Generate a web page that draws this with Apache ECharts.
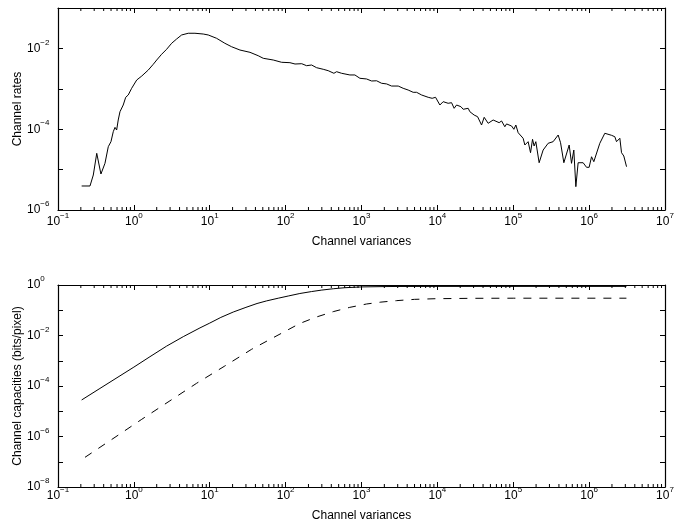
<!DOCTYPE html>
<html><head><meta charset="utf-8">
<script src="https://cdn.jsdelivr.net/npm/echarts@6/dist/echarts.min.js"></script>
<style>html,body{margin:0;padding:0;background:#fff}#c{width:676px;height:529px}</style>
</head><body><div id="c"></div>
<script>
// ---- Data ----
const rateX = [0.205,0.264,0.292,0.324,0.368,0.416,0.46,0.499,0.535,0.564,0.593,0.622,0.656,0.724,0.78,0.843,0.935,1.09,1.27,1.55,1.80,2.0,2.32,2.70,3.15,3.66,4.26,5.21,6.38,8.21,
  9.55,12.3,15.8,19.4,25.0,33.9,43.5,50.7,68.7,88.5,114,133,163,189,220,256,313,364,383,433,470,547,703,
  818,953,1167,1358,1581,1840,2143,2490,3048,3206,3540,4121,4797,5321,6194,7568,8535,9462,10790,11920,13870,15380,16640,17910,20420,21880,25470,26800,30530,33880,38210,41390,46680,54330,
  65170,70150,77450,81620,95060,101900,108200,116100,135000,142200,157100,169000,179600,188400,198500,219300,247600,288300,335500,390800,420100,464400,545600,586100,628500,668300,716200,833700,924600,1000000,1076000,1153000,1383000,1610000,1972000,2181000,2296000,2541000,2673000,2865000,3112000];
const rateY = [3.93e-6,3.93e-6,7.35e-6,2.53e-5,7.78e-6,1.43e-5,3.69e-5,4.91e-5,8.67e-5,1.11e-4,9.55e-5,1.69e-4,2.71e-4,3.97e-4,6.16e-4,7.03e-4,1.03e-3,1.65e-3,2.07e-3,2.92e-3,4.04e-3,5.16e-3,7.14e-3,9.5e-3,1.34e-2,1.71e-2,2.15e-2,2.37e-2,2.37e-2,2.27e-2,
  2.15e-2,1.78e-2,1.34e-2,1.10e-2,9.12e-3,8.0e-3,6.59e-3,5.69e-3,5.16e-3,4.53e-3,4.43e-3,4.11e-3,4.18e-3,3.73e-3,3.88e-3,3.33e-3,3.04e-3,2.81e-3,3.04e-3,2.42e-3,2.65e-3,2.42e-3,2.20e-3,
  2.20e-3,1.82e-3,1.75e-3,1.56e-3,1.58e-3,1.37e-3,1.32e-3,1.17e-3,1.17e-3,1.24e-3,1.03e-3,9.33e-4,8.19e-4,8.19e-4,7.03e-4,6.16e-4,5.82e-4,6.16e-4,3.97e-4,4.80e-4,4.38e-4,4.53e-4,3.29e-4,3.97e-4,3.61e-4,3.11e-4,3.29e-4,2.71e-4,2.24e-4,2.04e-4,1.27e-4,1.97e-4,1.40e-4,1.69e-4,
  1.45e-4,1.60e-4,1.15e-4,1.35e-4,1.20e-4,9.95e-5,1.27e-4,8.19e-5,5.96e-5,4.06e-5,4.91e-5,2.62e-5,5.62e-5,3.84e-5,4.91e-5,1.48e-5,3.05e-5,4.48e-5,4.91e-5,7.18e-5,4.63e-5,1.48e-5,4.06e-5,1.43e-5,3.05e-5,3.78e-6,1.48e-5,1.48e-5,1.14e-5,1.14e-5,2.08e-5,1.57e-5,4.48e-5,7.93e-5,7.06e-5,6.52e-5,4.91e-5,5.96e-5,2.62e-5,2.17e-5,1.18e-5];

const capSolidX = [0.205,0.357,0.564,1.0,1.63,2.7,4.48,7.43,10,14,20.4,30,42,56.2,80,110,154,220,300,424,600,1000,2000,3000,1e4,1e5,1e6,3.1e6];
const capSolidY = [2.8e-5,8.0e-5,1.9e-4,5.6e-4,1.45e-3,3.8e-3,9.0e-3,2.0e-2,3.1e-2,5.2e-2,8.5e-2,0.13,0.185,0.235,0.3,0.37,0.46,0.55,0.63,0.71,0.78,0.84,0.865,0.875,0.88,0.88,0.88,0.88];
const capDashX = [0.227,0.564,1.27,2.99,6.71,15.8,35.6,60,100,154,250,424,700,1167,1800,2897,5000,9550,3e4,1e5,1e6,3.1e6];
const capDashY = [1.5e-7,9.3e-7,4.8e-6,2.6e-5,1.28e-4,6.2e-4,2.84e-3,6.6e-3,1.5e-2,3.0e-2,5.3e-2,8.8e-2,0.13,0.177,0.21,0.24,0.27,0.287,0.297,0.3,0.3,0.3];

const xRange = [0.1, 1e7];
const topYRange = [1e-6, 1e-1];
const botYRange = [1e-8, 1];
const xName = 'Channel variances';
const topYName = 'Channel rates';
const botYName = 'Channel capacities (bits/pixel)';

// ---- Helpers ----
const FONT = '"Liberation Sans", Arial, Helvetica, sans-serif';
const rich = {
  b: {fontSize: 12, lineHeight: 12, fontFamily: FONT, color: '#000', verticalAlign: 'bottom'},
  s: {fontSize: 8, lineHeight: 8, fontFamily: FONT, color: '#000', padding: [0, 0, 8, 0], verticalAlign: 'bottom'}
};
function powLabel(v) {
  const e = Math.round(Math.log10(v));
  return '{b|10}{s|' + (e < 0 ? '\u2212' + (-e) : String(e)) + '}';
}
function evenPowLabel(v) {
  const e = Math.round(Math.log10(v));
  return (e % 2 === 0) ? powLabel(v) : '';
}
const lineAx = {show: true, onZero: false, lineStyle: {color: '#000', width: 1.2}};
const tickAx = {show: true, inside: true, length: 5, lineStyle: {color: '#000', width: 1}};

function xAxis(grid, pos, labels, margin, nameGap) {
  const a = {type: 'log', logBase: 10, gridIndex: grid, position: pos, min: xRange[0], max: xRange[1], splitNumber: 8,
    axisLine: lineAx, axisTick: tickAx, splitLine: {show: false}, minorTick: {show: false},
    axisLabel: {show: labels, formatter: powLabel, rich: rich, margin: margin, showMinLabel: true, showMaxLabel: true, hideOverlap: false}};
  if (labels) {
    a.name = xName; a.nameLocation = 'middle'; a.nameGap = nameGap;
    a.nameTextStyle = {fontFamily: FONT, fontSize: 12, color: '#000'};
  }
  return a;
}
function yAxis(grid, pos, range, labels, name, split) {
  const a = {type: 'log', logBase: 10, gridIndex: grid, position: pos, min: range[0], max: range[1], splitNumber: split,
    axisLine: lineAx, axisTick: tickAx, splitLine: {show: false}, minorTick: {show: false},
    axisLabel: {show: labels, formatter: evenPowLabel, rich: rich, align: 'left', margin: 31, showMinLabel: true, showMaxLabel: true, hideOverlap: false}};
  if (labels) {
    a.name = name; a.nameLocation = 'middle'; a.nameGap = 34; a.nameMoveOverlap = false;
    a.nameTextStyle = {fontFamily: FONT, fontSize: 12, color: '#000'};
  }
  return a;
}

const minorVals = [];
for (let e = -1; e <= 6; e++) for (let k = 2; k <= 9; k++) minorVals.push(k * Math.pow(10, e));

function minorTicks(xi, yi, yRef) {
  return {
    type: 'custom', xAxisIndex: xi, yAxisIndex: yi, silent: true, clip: false, z: 5,
    data: minorVals.map(v => [v, yRef]),
    renderItem(params, api) {
      const p = api.coord([api.value(0), api.value(1)]);
      const cs = params.coordSys;
      const len = 3;
      return {type: 'group', children: [
        {type: 'line', shape: {x1: p[0], y1: cs.y + cs.height, x2: p[0], y2: cs.y + cs.height - len}, style: {stroke: '#000', lineWidth: 1}},
        {type: 'line', shape: {x1: p[0], y1: cs.y, x2: p[0], y2: cs.y + len}, style: {stroke: '#000', lineWidth: 1}}
      ]};
    }
  };
}
const pairs = (xs, ys) => xs.map((x, i) => [x, ys[i]]);

const chart = echarts.init(document.getElementById('c'), null, {renderer: 'canvas'});
chart.setOption({
  animation: false,
  backgroundColor: '#fff',
  textStyle: {fontFamily: FONT},
  grid: [
    {left: 58, right: 11, top: 8, height: 202, containLabel: false, outerBoundsMode: 'none'},
    {left: 58, right: 11, top: 285, height: 202, containLabel: false, outerBoundsMode: 'none'}
  ],
  xAxis: [
    xAxis(0, 'bottom', true, 6, 26),
    xAxis(0, 'top', false, 0, 0),
    xAxis(1, 'bottom', true, 3, 23),
    xAxis(1, 'top', false, 0, 0)
  ],
  yAxis: [
    yAxis(0, 'left', topYRange, true, topYName, 5),
    yAxis(0, 'right', topYRange, false, '', 5),
    yAxis(1, 'left', botYRange, true, botYName, 8),
    yAxis(1, 'right', botYRange, false, '', 8)
  ],
  series: [
    {type: 'line', xAxisIndex: 0, yAxisIndex: 0, data: pairs(rateX, rateY), showSymbol: false, symbol: 'none',
      lineStyle: {color: '#000', width: 1}, z: 3},
    {type: 'line', xAxisIndex: 2, yAxisIndex: 2, data: pairs(capSolidX, capSolidY), showSymbol: false, symbol: 'none',
      lineStyle: {color: '#000', width: 1}, z: 3},
    {type: 'line', xAxisIndex: 2, yAxisIndex: 2, data: pairs(capDashX, capDashY), showSymbol: false, symbol: 'none',
      lineStyle: {color: '#000', width: 1, type: [8, 8]}, z: 3},
    minorTicks(0, 0, topYRange[0]),
    minorTicks(2, 2, botYRange[0])
  ]
});
</script>
</body></html>
